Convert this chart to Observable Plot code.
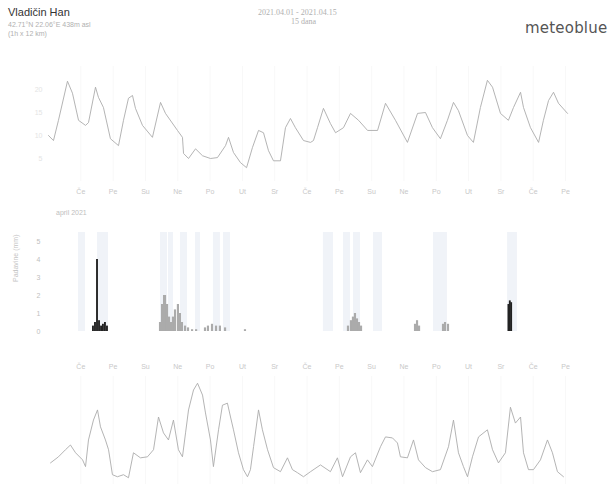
<!DOCTYPE html>
<html>
<head>
<meta charset="utf-8">
<script src="https://cdn.jsdelivr.net/npm/d3@7"></script>
<script src="https://cdn.jsdelivr.net/npm/@observablehq/plot@0.6"></script>
<style>
  body { margin: 0; background: #fff; font-family: "Liberation Sans", Arial, sans-serif; }
  #wrap { position: relative; width: 616px; height: 484px; overflow: hidden; background: #fff; }
  .abs { position: absolute; white-space: nowrap; }
  .plot { position: absolute; left: 0; }
</style>
</head>
<body>
<div id="wrap">
  <div class="abs" style="left:8px;top:6px;font-size:11px;color:#333;">Vladičin Han</div>
  <div class="abs" style="left:8px;top:21px;font-size:7px;color:#b0b0b0;">42.71°N 22.06°E 438m asl</div>
  <div class="abs" style="left:8px;top:30px;font-size:7px;color:#b0b0b0;">(1h x 12 km)</div>
  <div class="abs" style="left:258px;top:8px;font-size:8px;color:#b0b0b0;font-family:'Liberation Serif',serif;">2021.04.01 - 2021.04.15</div>
  <div class="abs" style="left:291px;top:17px;font-size:8px;color:#b0b0b0;font-family:'Liberation Serif',serif;">15 dana</div>
  <div class="abs" style="left:525px;top:19px;font-size:15px;color:#555;font-family:'DejaVu Sans',sans-serif;letter-spacing:0.2px;">meteoblue</div>
  <div class="abs" style="left:56px;top:209px;font-size:7px;color:#c0c0c0;">april 2021</div>
  <div id="p1" class="plot" style="top:55px;"></div>
  <div id="p2" class="plot" style="top:205px;"></div>
  <div id="p3" class="plot" style="top:350px;"></div>
</div>
<script>
// ---- data (x = hours since 2021-04-01 00:00) ----
const dayLabels = ["Če","Pe","Su","Ne","Po","Ut","Sr","Če","Pe","Su","Ne","Po","Ut","Sr","Če","Pe"];
const dayTickHours = [12,36,60,84,108,132,156,180,204,228,252,276,300,324,348,372];

const tempHours = [-12,-8.3,-4.6,2.1,5.8,10.3,15.5,17.7,22.9,25.1,28.8,34,40,43.7,47.4,50.4,52.6,57.8,65.2,71.2,74.9,83.8,87.5,88.3,92,97.2,102.4,108.3,113.5,119.5,121.7,125.4,130.6,135.1,139.5,144,147.7,151.4,155.1,160.3,164,167.7,171.4,177.4,182.6,184.8,187.8,192.2,197.4,201.2,207.1,212.3,218.3,225,232.4,238.3,245.7,254.6,262.1,268,273.2,279.1,284.3,288.8,292.5,299.2,303.6,308.8,314,317.8,323.7,329.6,333.4,338.6,340.8,346,352,355.6,359.4,363.1,366.8,373.5];
const tempValues = [10.0,8.9,13.3,21.8,19.2,13.3,12.2,12.8,20.5,18.3,16.1,9.3,7.8,13.3,18.1,18.7,15.9,12.2,9.6,17.2,14.8,11.1,9.6,6.1,5.0,7.1,5.6,5.0,5.2,7.8,9.6,6.3,4.1,3.0,7.4,11.1,10.6,6.7,4.5,4.5,11.7,13.7,11.7,8.9,8.5,8.9,11.7,15.9,12.6,10.6,11.7,14.8,13.3,11.1,11.1,17.0,13.3,8.5,14.8,15.0,11.7,9.3,13.3,17.2,15.4,10.0,8.5,16.1,22.0,20.5,14.8,13.3,16.1,19.4,16.1,11.7,8.5,13.3,17.6,19.4,17.0,14.8];

const bandStart = [10.3,24.4,71.2,77.1,86,97.2,110.5,118,192.2,207.1,214.5,229.4,274,329];
const bandEnd   = [15.5,32.6,76.4,80.8,91.2,100.9,115.7,123.2,199.7,212.3,219.7,236.1,284.3,336.3];

const rainHours  = [21.4,22.9,24.4,25.9,27.4,28.8,30.3,31.8,330,331,332];
const rainValues = [0.3,0.5,4.0,0.6,0.3,0.4,0.5,0.3,1.5,1.7,1.6];

const showerHours  = [71.2,72.7,74.2,74.9,76.4,77.9,79.4,80.8,82.3,84.5,86,87.5,89.8,92,95,98,104.6,106.8,109.8,112.8,115.7,119.5,134.3,210.8,213,214.5,216,217.5,219,220.5,260.6,262.1,263.6,281.4,282.9,285.1];
const showerValues = [0.5,1.5,2.0,2.0,1.5,0.8,0.5,0.8,1.2,1.5,1.0,0.5,0.3,0.2,0.1,0.1,0.2,0.3,0.4,0.3,0.3,0.2,0.1,0.3,0.6,0.8,1.0,0.7,0.5,0.3,0.4,0.6,0.3,0.4,0.5,0.4];
const precipTicks = [0,1,2,3,4,5];

const windHours = [-10.5,-4.6,0.6,4.3,8.1,13.3,15.5,17.7,21.4,24.4,26.6,30.3,32.6,35.5,39.2,43.7,47.4,51.1,56.3,61.5,66,69.7,73.4,77.1,80.8,84.5,87.5,89.8,92,95.7,98.7,102.4,104.6,108.3,110.5,114.3,117.2,120.9,123.2,125.4,129.1,132.8,135.8,138,140.3,144,146.9,150.7,155.1,160.3,165.5,169.2,172.9,177.4,182.6,190,197.4,202.6,206.4,212.3,216,219.7,224.9,228.6,234.6,238.3,243.5,247.2,249.4,254.6,259.1,262.8,268,273.2,279.1,285.1,288.8,292.5,296.2,299.2,302.9,307.4,314,317.8,322.2,327.4,331.1,334.8,338.6,340.8,344.5,348.2,353.4,358.6,362.3,366,370.5];
const windValues = [6.4,8.2,10.3,11.7,9.4,7.3,5.3,13.2,19.1,22.1,17.1,13.2,10.3,2.9,2.3,2.9,2.0,9.4,7.9,8.2,10.3,20.0,15.3,13.2,19.1,10.3,8.2,15.3,22.1,28.0,30.0,26.5,21.2,13.2,5.3,16.2,23.5,24.1,20.0,16.2,9.4,4.4,2.3,4.4,11.2,22.1,16.2,10.3,5.0,3.8,7.9,4.4,3.5,2.3,3.8,5.8,3.8,7.9,2.3,8.2,9.4,3.5,7.3,5.3,11.2,14.1,13.8,12.3,8.2,7.9,13.2,7.3,5.0,3.8,4.4,11.2,19.1,9.4,5.3,2.3,8.2,14.1,16.2,10.3,6.4,9.4,22.9,18.2,20.0,9.4,4.4,4.4,7.3,13.2,9.4,3.8,2.3];

// ---- shared x ----
const xDomain = [-12, 372];
const xRange = [48, 565];
const labelOf = new Map(dayTickHours.map((h, i) => [h, dayLabels[i]]));
const font = "Liberation Sans, Arial, sans-serif";

const temp = tempHours.map((h, i) => ({h, v: tempValues[i]}));
const bands = bandStart.map((s, i) => ({s, e: bandEnd[i]}));
const rain = rainHours.map((h, i) => ({h, v: rainValues[i]}));
const shower = showerHours.map((h, i) => ({h, v: showerValues[i]}));
const wind = windHours.map((h, i) => ({h, v: windValues[i]}));

// ---- panel 1: temperature ----
const p1 = Plot.plot({
  width: 616, height: 150,
  marginLeft: 48, marginRight: 51, marginTop: 11, marginBottom: 24,
  style: {fontFamily: font, fontSize: "7px", background: "transparent"},
  x: {domain: xDomain, range: xRange, axis: null},
  y: {domain: [0, 25], axis: null},
  marks: [
    Plot.ruleX(dayTickHours, {stroke: "#f8f8f8"}),
    Plot.axisY([5, 10, 15, 20], {anchor: "left", tickSize: 0, tickPadding: 6, fill: "#e4e4e4", label: null}),
    Plot.axisX(dayTickHours, {anchor: "bottom", tickSize: 0, tickPadding: 8, tickFormat: d => labelOf.get(d), fill: "#c8c8c8", label: null}),
    Plot.line(temp, {x: "h", y: "v", stroke: "#ababab", strokeWidth: 0.9})
  ]
});
document.getElementById("p1").append(p1);

// ---- panel 2: precipitation ----
const p2 = Plot.plot({
  width: 616, height: 135,
  marginLeft: 48, marginRight: 51, marginTop: 27, marginBottom: 9,
  style: {fontFamily: font, fontSize: "7px", background: "transparent"},
  x: {domain: xDomain, range: xRange, axis: null},
  y: {domain: [0, 5.5], axis: null},
  marks: [
    Plot.rectY(bands, {x1: "s", x2: "e", y1: 0, y2: 5.5, fill: "#f0f3f8"}),
    Plot.rectY(shower, {x1: d => d.h - 0.8, x2: d => d.h + 0.8, y: "v", fill: "#ababab"}),
    Plot.rectY(rain, {x1: d => d.h - 0.7, x2: d => d.h + 0.7, y: "v", fill: "#222"}),
    Plot.axisY(precipTicks, {anchor: "left", tickSize: 0, tickPadding: 8, fill: "#c0c0c0", label: null}),
    Plot.text(["Padavine (mm)"], {frameAnchor: "left", dx: -33, rotate: -90, fill: "#c4c4c4", fontSize: 7})
  ]
});
document.getElementById("p2").append(p2);

// ---- panel 3: wind ----
const p3 = Plot.plot({
  width: 616, height: 134,
  marginLeft: 48, marginRight: 51, marginTop: 26, marginBottom: 0,
  style: {fontFamily: font, fontSize: "7px", background: "transparent"},
  x: {domain: xDomain, range: xRange, axis: null},
  y: {domain: [0, 32], axis: null},
  marks: [
    Plot.ruleX(dayTickHours, {stroke: "#f8f8f8"}),
    Plot.axisX(dayTickHours, {anchor: "top", tickSize: 0, tickPadding: 8, tickFormat: d => labelOf.get(d), fill: "#c8c8c8", label: null}),
    Plot.line(wind, {x: "h", y: "v", stroke: "#acacac", strokeWidth: 0.9})
  ]
});
document.getElementById("p3").append(p3);
</script>
</body>
</html>
